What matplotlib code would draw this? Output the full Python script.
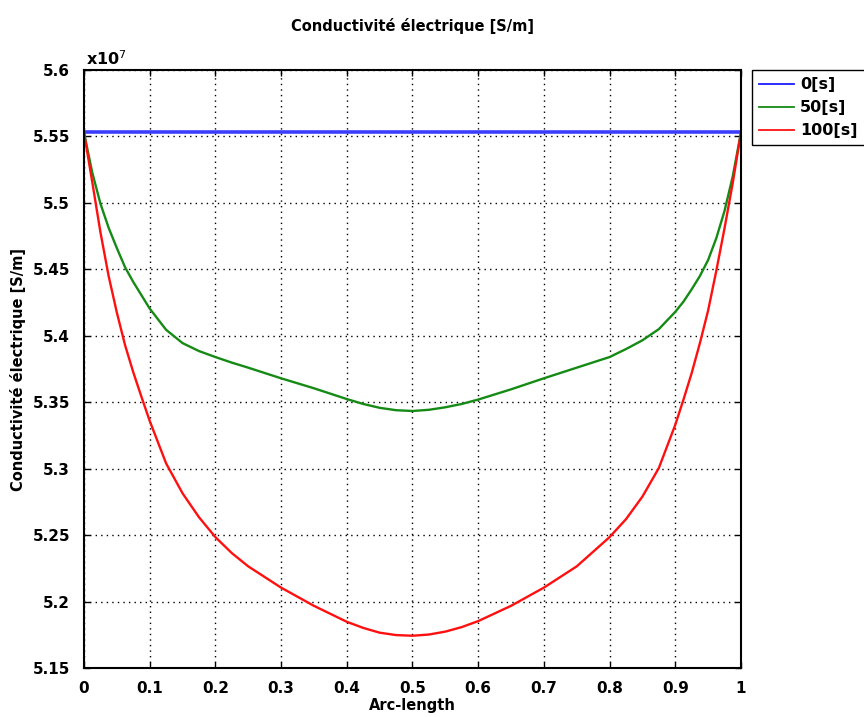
import matplotlib
matplotlib.use('Agg')
import matplotlib.pyplot as plt
from matplotlib.ticker import FuncFormatter, MultipleLocator
from matplotlib.lines import Line2D

# Arc-length sample positions
arc = [0, 0.0125, 0.025, 0.0375, 0.05, 0.0625, 0.075, 0.0875, 0.1, 0.125,
       0.15, 0.175, 0.2, 0.225, 0.25, 0.3, 0.35, 0.4, 0.425, 0.45, 0.475,
       0.5, 0.525, 0.55, 0.575, 0.6, 0.65, 0.7, 0.75, 0.8, 0.825, 0.85,
       0.875, 0.9, 0.9125, 0.925, 0.9375, 0.95, 0.9625, 0.975, 0.9875, 1.0]

# Conductivity in units of 1e7 S/m
sigma_0s = [5.553] * len(arc)
sigma_50s = [5.553, 5.523, 5.4995, 5.4813, 5.466, 5.4516, 5.4405, 5.4305,
             5.4205, 5.4045, 5.3945, 5.3885, 5.384, 5.3798, 5.376, 5.368,
             5.3605, 5.3524, 5.3487, 5.3458, 5.3440, 5.3434, 5.3443, 5.3462,
             5.3487, 5.352, 5.3597, 5.368, 5.376, 5.384, 5.390, 5.3966,
             5.405, 5.418, 5.4257, 5.435, 5.445, 5.457, 5.4735, 5.494, 5.52,
             5.553]
sigma_100s = [5.553, 5.516, 5.478, 5.445, 5.4175, 5.393, 5.3726, 5.354,
              5.336, 5.304, 5.2815, 5.2635, 5.2485, 5.2365, 5.2265, 5.2105,
              5.1968, 5.1848, 5.1802, 5.1766, 5.1748, 5.1743, 5.1752, 5.1774,
              5.1808, 5.1853, 5.1968, 5.2105, 5.2265, 5.2485, 5.262, 5.279,
              5.3005, 5.333, 5.352, 5.372, 5.3945, 5.419, 5.449, 5.481, 5.515,
              5.553]

labels = ['0[s]', '50[s]', '100[s]']
colors = ['#1a1aff', '#158a15', '#ff1010']
scale = 1e7

fig = plt.figure(figsize=(8.64, 7.17), dpi=100)
ax = fig.add_axes([0.0972, 0.0683, 0.7604, 0.8341])

ax.plot(arc, [v * scale for v in sigma_0s], color=colors[0], linewidth=2.6, alpha=0.85)
ax.plot(arc, [v * scale for v in sigma_50s], color=colors[1], linewidth=1.7)
ax.plot(arc, [v * scale for v in sigma_100s], color=colors[2], linewidth=1.7)

ax.set_xlim(0, 1)
ax.set_ylim(5.15 * scale, 5.6 * scale)
ax.xaxis.set_major_locator(MultipleLocator(0.1))
ax.yaxis.set_major_locator(MultipleLocator(0.05 * scale))
ax.xaxis.set_major_formatter(FuncFormatter(lambda v, p: '%g' % round(v, 2)))
ax.yaxis.set_major_formatter(FuncFormatter(lambda v, p: '%g' % round(v / scale, 3)))

ax.grid(True, color='black', linestyle=(0, (1, 3)), linewidth=1.0)
ax.tick_params(direction='in', top=True, right=True, length=4, width=1.0,
               labelsize=11)
ax.tick_params(axis='x', pad=9)
ax.tick_params(axis='y', pad=10)
for lbl in ax.get_xticklabels() + ax.get_yticklabels():
    lbl.set_fontweight('bold')
for sp in ax.spines.values():
    sp.set_linewidth(1.5)

ax.text(0.003, 1.003, r'x10$^{7}$', transform=ax.transAxes, fontsize=11.5,
        fontweight='bold', ha='left', va='bottom')

ax.set_title('Conductivité électrique [S/m]', fontsize=10.5, fontweight='semibold', pad=28)
ax.set_ylabel('Conductivité électrique [S/m]', fontsize=10.5, fontweight='semibold', labelpad=5)
ax.set_xlabel('Arc-length', fontsize=10.5, fontweight='semibold', labelpad=2)

handles = [Line2D([0], [0], color=c, linewidth=1.3) for c in colors]
leg = ax.legend(handles, labels, loc='upper left', bbox_to_anchor=(1.017, 1.0),
                borderaxespad=0, fancybox=False, framealpha=1, edgecolor='black',
                prop={'weight': 'bold', 'size': 11.5}, handlelength=2.2,
                handletextpad=0.35, labelspacing=0.5, borderpad=0.45)
leg.get_frame().set_linewidth(1.0)

plt.savefig('out.png', dpi=100, facecolor='white')
plt.close(fig)
